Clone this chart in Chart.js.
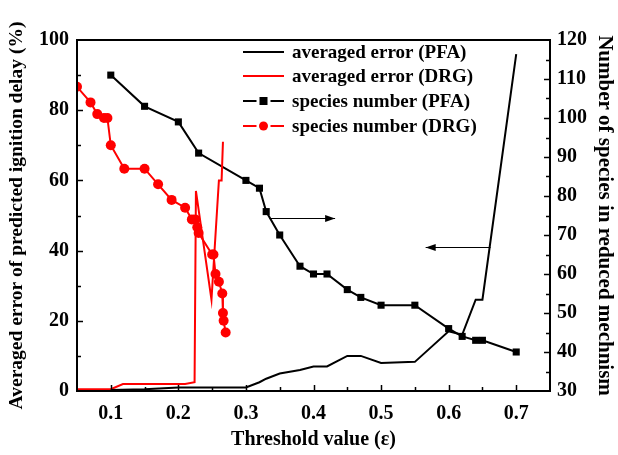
<!DOCTYPE html>
<html>
<head>
<meta charset="utf-8">
<script src="https://cdn.jsdelivr.net/npm/chart.js@4/dist/chart.umd.min.js"></script>
<style>
  html, body { margin:0; padding:0; background:#fff; }
  #wrap { width:618px; height:455px; position:relative; }
</style>
</head>
<body>
<div id="wrap"><canvas id="c" width="618" height="455"></canvas></div>
<script>
// ---- data ----
const xTickValues = [0.1, 0.2, 0.3, 0.4, 0.5, 0.6, 0.7];
const leftTickValues = [0, 20, 40, 60, 80, 100];
const rightTickValues = [30, 40, 50, 60, 70, 80, 90, 100, 110, 120];

const xErrPFA = [0.1, 0.15, 0.2, 0.23, 0.3, 0.32, 0.33, 0.35, 0.38, 0.4, 0.42, 0.45, 0.47, 0.5, 0.55, 0.6, 0.62, 0.64, 0.65, 0.7];
const errPFA  = [0.3, 0.5, 1, 1, 1, 2.5, 3.5, 5, 6, 7, 7, 10, 10, 8, 8.3, 17, 16, 26, 26, 96];

const xErrDRG = [0.05, 0.1, 0.118, 0.21, 0.224, 0.226, 0.249, 0.26, 0.264, 0.266];
const errDRG  = [0.5, 0.5, 2, 2, 2.5, 57, 26, 60, 60, 71];

const xSpPFA = [0.1, 0.15, 0.2, 0.23, 0.3, 0.32, 0.33, 0.35, 0.38, 0.4, 0.42, 0.45, 0.47, 0.5, 0.55, 0.6, 0.62, 0.64, 0.65, 0.7];
const spPFA  = [111, 103, 99, 91, 84, 82, 76, 70, 62, 60, 60, 56, 54, 52, 52, 46, 44, 43, 43, 40];

const xSpDRG = [0.05, 0.07, 0.08, 0.09, 0.095, 0.1, 0.12, 0.15, 0.17, 0.19, 0.21, 0.22, 0.225, 0.228, 0.23, 0.25, 0.252, 0.255, 0.26, 0.265, 0.266, 0.267, 0.27];
const spDRG  = [108, 104, 101, 100, 100, 93, 87, 87, 83, 79, 77, 74, 74, 72, 70.5, 65, 65, 60, 58, 55, 50, 48, 45];

const legendLabels = ['averaged error (PFA)', 'averaged error (DRG)', 'species number (PFA)', 'species number (DRG)'];

// ---- helpers ----
const zip = (xs, ys) => xs.map((x, i) => ({x: x, y: ys[i]}));
const FONT = "'Liberation Serif', 'Times New Roman', serif";
const BLACK = '#000000';
const RED = '#ff0000';

const decorPlugin = {
  id: 'decor',
  afterDatasetsDraw(chart) {
    const ctx = chart.ctx;
    const a = chart.chartArea;
    const xs = chart.scales.x, yl = chart.scales.y, yr = chart.scales.y2;
    ctx.save();
    ctx.strokeStyle = BLACK;
    ctx.fillStyle = BLACK;
    // frame
    ctx.lineWidth = 2;
    ctx.strokeRect(a.left, a.top, a.right - a.left, a.bottom - a.top);
    // inward ticks
    ctx.lineWidth = 1.5;
    ctx.beginPath();
    for (let v = 0.1; v <= 0.7001; v += 0.05) {
      const p = Math.round(xs.getPixelForValue(v)) + 0.5;
      const major = Math.abs(Math.round(v * 10) - v * 10) < 1e-6;
      const len = major ? 6 : 4;
      ctx.moveTo(p, a.bottom); ctx.lineTo(p, a.bottom - len);
    }
    for (let v = 10; v < 100; v += 10) {
      const p = Math.round(yl.getPixelForValue(v)) + 0.5;
      const len = (v % 20 === 0) ? 6 : 4;
      ctx.moveTo(a.left, p); ctx.lineTo(a.left + len, p);
    }
    for (let v = 35; v < 120; v += 5) {
      const p = Math.round(yr.getPixelForValue(v)) + 0.5;
      const len = (v % 10 === 0) ? 6 : 4;
      ctx.moveTo(a.right, p); ctx.lineTo(a.right - len, p);
    }
    ctx.stroke();

    // arrows
    const arrow = (x1, x2, y) => {
      ctx.lineWidth = 1;
      ctx.beginPath();
      ctx.moveTo(x1, y); ctx.lineTo(x2, y); ctx.stroke();
      const dir = x2 > x1 ? 1 : -1;
      ctx.beginPath();
      ctx.moveTo(x2, y);
      ctx.lineTo(x2 - dir * 10, y - 3.5);
      ctx.lineTo(x2 - dir * 10, y + 3.5);
      ctx.closePath();
      ctx.fill();
    };
    const ay1 = Math.round(yr.getPixelForValue(74.4)) + 0.5;
    arrow(xs.getPixelForValue(0.335), xs.getPixelForValue(0.432), ay1);
    const ay2 = Math.round(yl.getPixelForValue(41)) + 0.5;
    arrow(xs.getPixelForValue(0.662), xs.getPixelForValue(0.566), ay2);

    // legend
    const lx0 = 243, lx1 = 284, tx = 292;
    const rows = [52, 76, 101, 126];
    const colors = [BLACK, RED, BLACK, RED];
    ctx.font = 'bold 19px ' + FONT;
    ctx.textBaseline = 'middle';
    ctx.textAlign = 'left';
    rows.forEach((ry, i) => {
      ctx.strokeStyle = colors[i];
      ctx.fillStyle = colors[i];
      ctx.lineWidth = 2;
      ctx.beginPath();
      const mid = (lx0 + lx1) / 2;
      if (i < 2) {
        ctx.moveTo(lx0, ry); ctx.lineTo(lx1, ry);
      } else {
        ctx.moveTo(lx0, ry); ctx.lineTo(mid - 7, ry);
        ctx.moveTo(mid + 7, ry); ctx.lineTo(lx1, ry);
      }
      ctx.stroke();
      if (i === 2) {
        ctx.fillRect(mid - 4, ry - 4, 8, 8);
      } else if (i === 3) {
        ctx.beginPath(); ctx.arc(mid, ry, 4.5, 0, Math.PI * 2); ctx.fill();
      }
      ctx.fillStyle = BLACK;
      ctx.fillText(legendLabels[i], tx, ry + 1);
    });
    ctx.restore();
  }
};

new Chart(document.getElementById('c'), {
  type: 'line',
  data: {
    datasets: [
      { label: legendLabels[0], data: zip(xErrPFA, errPFA), yAxisID: 'y',
        borderColor: BLACK, borderWidth: 2, pointRadius: 0, tension: 0 },
      { label: legendLabels[1], data: zip(xErrDRG, errDRG), yAxisID: 'y',
        borderColor: RED, borderWidth: 2, pointRadius: 0, tension: 0 },
      { label: legendLabels[2], data: zip(xSpPFA, spPFA), yAxisID: 'y2',
        borderColor: BLACK, backgroundColor: BLACK, borderWidth: 2,
        pointStyle: 'rect', pointRadius: 5, pointBorderWidth: 0, tension: 0 },
      { label: legendLabels[3], data: zip(xSpDRG, spDRG), yAxisID: 'y2',
        borderColor: RED, backgroundColor: RED, borderWidth: 2,
        pointStyle: 'circle', pointRadius: 5, pointBorderWidth: 0, tension: 0 }
    ]
  },
  options: {
    responsive: false,
    animation: false,
    devicePixelRatio: 1,
    layout: { padding: { top: 40, left: 0, right: 0, bottom: 0 } },
    plugins: { legend: { display: false }, tooltip: { enabled: false } },
    scales: {
      x: {
        type: 'linear', position: 'bottom', min: 0.05, max: 0.75,
        afterBuildTicks: s => { s.ticks = xTickValues.map(v => ({value: v})); },
        afterFit: s => { s.height = 64; },
        grid: { display: false, drawTicks: false },
        border: { display: true, color: BLACK, width: 2 },
        ticks: { padding: 11, color: BLACK, font: { family: FONT, size: 20, weight: 'bold' },
                 callback: v => v.toFixed(1), maxRotation: 0 },
        title: { display: true, text: 'Threshold value (ε)', color: BLACK,
                 font: { family: FONT, size: 20, weight: 'bold' }, padding: { top: 0, bottom: 3 } }
      },
      y: {
        type: 'linear', position: 'left', min: 0, max: 100,
        afterBuildTicks: s => { s.ticks = leftTickValues.map(v => ({value: v})); },
        afterFit: s => { s.width = 77; },
        grid: { display: false, drawTicks: false },
        border: { display: true, color: BLACK, width: 2 },
        ticks: { padding: 8, color: BLACK, font: { family: FONT, size: 20, weight: 'bold' } },
        title: { display: true, text: 'Averaged error of predicted ignition delay (%)', color: BLACK,
                 font: { family: FONT, size: 19.5, weight: 'bold' }, padding: { top: 5, bottom: 0 } }
      },
      y2: {
        type: 'linear', position: 'right', min: 30, max: 120,
        afterBuildTicks: s => { s.ticks = rightTickValues.map(v => ({value: v})); },
        afterFit: s => { s.width = 68; },
        grid: { display: false, drawTicks: false },
        border: { display: true, color: BLACK, width: 2 },
        ticks: { padding: 7, color: BLACK, font: { family: FONT, size: 20, weight: 'bold' } },
        title: { display: true, text: 'Number of species in reduced mechnism', color: BLACK,
                 font: { family: FONT, size: 21, weight: 'bold' }, padding: { top: 1, bottom: 0 } }
      }
    }
  },
  plugins: [decorPlugin]
});
</script>
</body>
</html>
